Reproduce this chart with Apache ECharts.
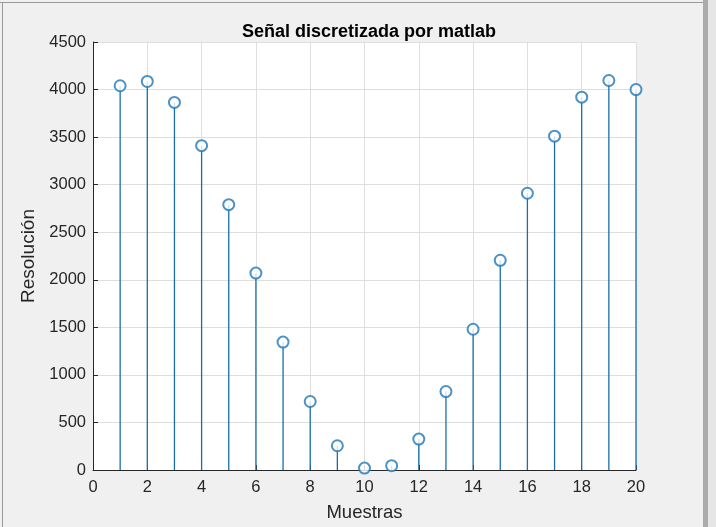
<!DOCTYPE html>
<html>
<head>
<meta charset="utf-8">
<script src="https://cdn.jsdelivr.net/npm/echarts@6/dist/echarts.min.js"></script>
<style>
  html, body { margin: 0; padding: 0; background: #f0f0f0; }
  #chart { width: 716px; height: 527px; }
</style>
</head>
<body>
<div id="chart"></div>
<script>
const muestras = [1, 2, 3, 4, 5, 6, 7, 8, 9, 10, 11, 12, 13, 14, 15, 16, 17, 18, 19, 20];
const resolucion = [4040, 4085, 3865, 3410, 2790, 2070, 1345, 720, 255, 20, 45, 325, 825, 1480, 2205, 2910, 3510, 3920, 4095, 4000];
const xTicks = [0, 2, 4, 6, 8, 10, 12, 14, 16, 18, 20];
const yTicks = [0, 500, 1000, 1500, 2000, 2500, 3000, 3500, 4000, 4500];

const stemColor = '#1a6ea8';
const circleColor = '#1f77b8';
const textColor = '#262626';
const font = 'Liberation Sans, Arial, sans-serif';

const pares = muestras.map((m, i) => [m, resolucion[i]]);

const chart = echarts.init(document.getElementById('chart'));

const option = {
    backgroundColor: '#f0f0f0',
    animation: false,
    title: {
        text: 'Señal discretizada por matlab',
        left: 364,
        textAlign: 'center',
        top: 18,
        textStyle: { fontFamily: font, fontSize: 18, fontWeight: 'bold', color: '#000' }
    },
    grid: { left: 93, right: 80, top: 42, bottom: 57, backgroundColor: '#fff', show: true, borderWidth: 0 },
    xAxis: {
        type: 'value',
        min: xTicks[0],
        max: xTicks[xTicks.length - 1],
        interval: 2,
        name: 'Muestras',
        nameLocation: 'middle',
        nameGap: 33,
        nameTextStyle: { fontFamily: font, fontSize: 18.5, color: textColor },
        axisLine: { onZero: false, lineStyle: { color: textColor, width: 1 } },
        axisTick: { inside: true, length: 5, lineStyle: { color: textColor } },
        axisLabel: { fontFamily: font, fontSize: 16.5, color: textColor, margin: 9 },
        splitLine: { show: true, lineStyle: { color: '#dedede', width: 1 } }
    },
    yAxis: {
        type: 'value',
        min: yTicks[0],
        max: yTicks[yTicks.length - 1],
        interval: 500,
        name: 'Resolución',
        nameLocation: 'middle',
        nameGap: 52,
        nameTextStyle: { fontFamily: font, fontSize: 19, color: textColor },
        axisLine: { show: true, lineStyle: { color: textColor, width: 1 } },
        axisTick: { show: true, inside: true, length: 5, lineStyle: { color: textColor } },
        axisLabel: { fontFamily: font, fontSize: 16.5, color: textColor, margin: 7, formatter: v => String(v) },
        splitLine: { show: true, lineStyle: { color: '#dedede', width: 1 } }
    },
    series: [
        {
            name: 'tallo',
            type: 'bar',
            data: pares,
            barWidth: 1.3,
            itemStyle: { color: stemColor },
            z: 2
        },
        {
            name: 'punta',
            type: 'scatter',
            data: pares,
            symbol: 'emptyCircle',
            symbolSize: 11,
            itemStyle: { color: circleColor, borderWidth: 1 },
            z: 3
        }
    ],
    graphic: [
        { type: 'rect', shape: { x: 0, y: 2, width: 703, height: 1 }, style: { fill: '#9a9a9a' } },
        { type: 'rect', shape: { x: 2, y: 2, width: 1, height: 525 }, style: { fill: '#9a9a9a' } },
        { type: 'rect', shape: { x: 703, y: 0, width: 5, height: 527 }, style: { fill: '#ababab' } },
        { type: 'rect', shape: { x: 708, y: 0, width: 8, height: 527 }, style: { fill: '#e6e6e6' } }
    ]
};

chart.setOption(option);
</script>
</body>
</html>
